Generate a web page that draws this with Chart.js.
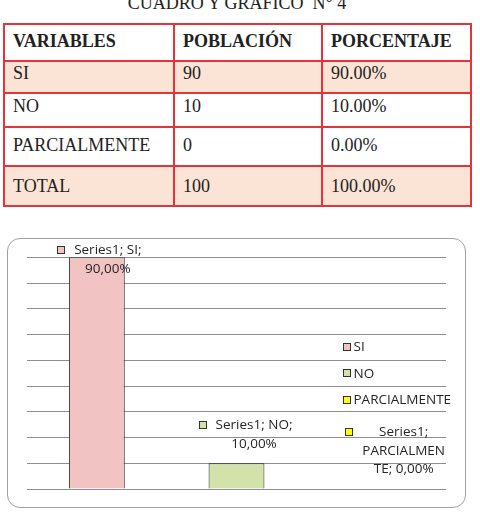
<!DOCTYPE html>
<html>
<head>
<meta charset="utf-8">
<script src="https://cdn.jsdelivr.net/npm/chart.js@4/dist/chart.umd.min.js"></script>
<style>
  html, body { margin: 0; padding: 0; background: #fff; width: 480px; height: 514px; overflow: hidden; position: relative; }
  #title { position: absolute; left: 0; width: 474px; top: -6px; text-align: center; font: 18px/18px "Liberation Serif", "Times New Roman", serif; color: #222; white-space: pre; }
  #tbl { position: absolute; left: 3px; top: 23px; width: 469px; height: 184px; background: #e2343c; display: grid;
         grid-template-columns: 168px 146px 147px; grid-template-rows: 35px 30px 32px 37px 38px; gap: 2px; padding: 2px; box-sizing: border-box;
         font: 18px/20px "Liberation Serif", "Times New Roman", serif; color: #222; }
  #tbl div { background: #fff; padding-left: 8px; box-sizing: border-box; white-space: nowrap; }
  #tbl div.hd { font-weight: bold; }
  #tbl div.peach { background: #fbe4d5; }
  #frame { position: absolute; left: 7px; top: 238px; width: 459px; height: 270px; border: 1px solid #a0a0a0; border-radius: 13px; box-sizing: border-box; }
  #chartWrap { position: absolute; left: 0; top: 230px; width: 480px; height: 284px; }
</style>
</head>
<body>
<div id="title">CUADRO Y GRÁFICO  N° 4</div>
<div id="tbl"></div>
<div id="frame"></div>
<div id="chartWrap"><canvas id="c" width="480" height="284"></canvas></div>
<script>
// ---- data ----
const headers = ['VARIABLES', 'POBLACIÓN', 'PORCENTAJE'];
const categories = ['SI', 'NO', 'PARCIALMENTE'];
const population = [90, 10, 0];
const percentages = [90, 10, 0];
const totalLabel = 'TOTAL';
const totalPopulation = 100;
const totalPercentage = 100;
const seriesName = 'Series1';
const yAxisMax = 90;
const yAxisStep = 10;

// ---- styles ----
const barColors = ['#f2c3c3', '#d3e2aa', '#ffff00'];
const rowPadTop = [6, 1, 2, 7, 9];
const peachRows = [1, 4];

// ---- table ----
const tbl = document.getElementById('tbl');
const rows = [headers];
categories.forEach((c, i) => rows.push([c, String(population[i]), percentages[i].toFixed(2) + '%']));
rows.push([totalLabel, String(totalPopulation), totalPercentage.toFixed(2) + '%']);
rows.forEach((r, ri) => {
  r.forEach(txt => {
    const d = document.createElement('div');
    d.textContent = txt;
    d.style.paddingTop = rowPadTop[ri] + 'px';
    if (ri === 0) d.className = 'hd';
    if (peachRows.includes(ri)) d.className = 'peach';
    tbl.appendChild(d);
  });
});

// ---- chart ----
const labelFont = '13.5px "Open Sans", sans-serif';
const textColor = '#262626';
const fmtComma = v => v.toFixed(2).replace('.', ',') + '%';

function wrapText(ctx, text, maxW) {
  const words = text.split(' ');
  const lines = [];
  let cur = '';
  words.forEach(w => {
    const trial = cur ? cur + ' ' + w : w;
    if (ctx.measureText(trial).width <= maxW) { cur = trial; return; }
    if (cur) { lines.push(cur); cur = ''; }
    if (ctx.measureText(w).width <= maxW) { cur = w; return; }
    let piece = '';
    for (const ch of w) {
      if (ctx.measureText(piece + ch).width > maxW) { lines.push(piece); piece = ch; }
      else piece += ch;
    }
    cur = piece;
  });
  if (cur) lines.push(cur);
  return lines;
}

function drawKey(ctx, x, y, color) {
  ctx.fillStyle = color;
  ctx.fillRect(x, y, 8, 8);
  ctx.strokeStyle = '#333';
  ctx.lineWidth = 1;
  ctx.strokeRect(x + 0.5, y + 0.5, 7, 7);
}

const dataLabels = {
  id: 'dataLabels',
  afterDatasetsDraw(chart, args, opts) {
    const ctx = chart.ctx;
    const meta = chart.getDatasetMeta(0);
    ctx.save();
    ctx.font = labelFont;
    ctx.textBaseline = 'middle';
    ctx.textAlign = 'center';
    meta.data.forEach((bar, i) => {
      const text = seriesName + '; ' + categories[i] + '; ' + fmtComma(percentages[i]);
      const lines = wrapText(ctx, text, opts.wrapWidth);
      const lh = opts.lineHeight;
      let firstY = bar.y - opts.gap - (lines.length - 1) * lh;
      const minFirst = chart.chartArea.top - 7;
      if (firstY < minFirst) firstY = minFirst;
      const cx = bar.x + opts.shift[i];
      const left = Math.min(...lines.map(l => cx - ctx.measureText(l).width / 2));
      drawKey(ctx, Math.round(left - 17), Math.round(firstY - 4.5), barColors[i]);
      ctx.fillStyle = textColor;
      lines.forEach((l, k) => ctx.fillText(l, cx, firstY + k * lh));
    });
    ctx.restore();
  }
};

const sideLegend = {
  id: 'sideLegend',
  afterDraw(chart, args, opts) {
    const ctx = chart.ctx;
    const a = chart.chartArea;
    ctx.save();
    ctx.font = labelFont;
    ctx.textBaseline = 'middle';
    ctx.textAlign = 'left';
    categories.forEach((c, i) => {
      const y = a.top + opts.top + i * opts.spacing;
      const x = a.left + opts.left;
      drawKey(ctx, x, Math.round(y - 4.5), barColors[i]);
      ctx.fillStyle = textColor;
      ctx.fillText(c, x + 10.5, y);
    });
    ctx.restore();
  }
};

new Chart(document.getElementById('c'), {
  type: 'bar',
  data: {
    labels: categories,
    datasets: [{
      label: seriesName,
      data: percentages,
      backgroundColor: barColors,
      borderColor: '#262626',
      borderWidth: ctx => (ctx.raw === 0 ? 0 : 1),
      barPercentage: 0.4,
      categoryPercentage: 1
    }]
  },
  options: {
    responsive: false,
    animation: false,
    devicePixelRatio: 1,
    layout: { padding: { left: 27, right: 34, top: 27.3, bottom: 25 } },
    plugins: {
      legend: { display: false },
      tooltip: { enabled: false },
      dataLabels: { wrapWidth: 85, lineHeight: 18.5, gap: 19.5, shift: [11, 17.5, 27.5] },
      sideLegend: { left: 316, top: 90, spacing: 26.5 }
    },
    scales: {
      x: { display: false },
      y: {
        display: true,
        min: 0, max: yAxisMax,
        ticks: { display: false, stepSize: yAxisStep },
        grid: { drawTicks: false, color: '#8e8e8e', lineWidth: 1 },
        border: { display: false }
      }
    }
  },
  plugins: [dataLabels, sideLegend]
});
</script>
</body>
</html>
